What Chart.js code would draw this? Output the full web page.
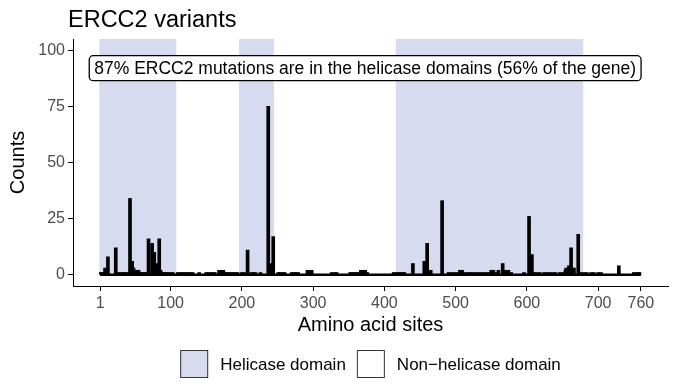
<!DOCTYPE html>
<html>
<head>
<meta charset="utf-8">
<script src="https://cdn.jsdelivr.net/npm/chart.js@4.4.1/dist/chart.umd.min.js"></script>
<style>
    html, body { margin: 0; padding: 0; background: #ffffff; }
    #wrap { width: 680px; height: 389px; }
</style>
</head>
<body>
<div id="wrap"><canvas id="ercc2-chart"></canvas></div>
<script>
// ERCC2 variant counts per amino acid site

// Helicase domain ranges (amino acid sites)
const helicaseDomains = [[0, 108], [196, 245], [416, 679]];

// Sites with taller bars and their counts
const peakSites  = [8, 12, 23, 43, 46, 48, 69, 74, 77, 80, 84, 208, 237, 240, 244, 440, 456, 460, 481, 566, 603, 607, 655, 659, 662, 666, 672, 729];
const peakCounts = [3, 8, 12, 34, 6, 3, 16, 14, 10, 5, 16, 11, 75, 5, 17, 5, 6, 14, 33, 5, 26, 9, 3, 4, 12, 3, 18, 4];

// Sites with a count of 2
const twoCountSites = [52, 55, 86, 168, 171, 174, 292, 295, 298, 367, 370, 373, 465, 506, 509, 550, 553, 560, 570, 574, 654];

// Sites with a count of 1
const oneCountSites = [2, 4, 6, 27, 30, 33, 36, 39, 50, 57, 60, 63, 66, 88, 91, 94, 97, 100, 103,
    110, 113, 116, 119, 122, 125, 128, 131, 140, 150, 153, 156, 159, 162, 176, 179, 182, 185, 188, 191, 194,
    200, 203, 213, 216, 219, 226, 251, 254, 257, 260, 270, 273, 276, 279, 326, 330, 333,
    352, 355, 358, 361, 364, 376, 413, 416, 419, 422, 425, 428, 490, 494, 498, 503, 513,
    517, 520, 523, 526, 530, 534, 538, 542, 546, 556, 578, 596, 610, 614, 618, 624, 628, 632, 636, 640, 646, 650,
    676, 680, 684, 690, 694, 700, 704, 750, 753, 756, 758];

// Gene span and axis ticks
const geneSpan = [1, 760];
const xTicks = [1, 100, 200, 300, 400, 500, 600, 700, 760];
const yTicks = [0, 25, 50, 75, 100];

const annotationText = '87% ERCC2 mutations are in the helicase domains (56% of the gene)';
const annotationPos = { x: 373, y: 92 };

const legendLabels = ['Helicase domain', 'Non\u2212helicase domain'];
const helicaseColor = '#d7dbef';
const legendFills = [helicaseColor, '#ffffff'];

// Build bar points from the lists above
const barPoints = []
    .concat(oneCountSites.map(s => ({ x: s, y: 1 })))
    .concat(twoCountSites.map(s => ({ x: s, y: 2 })))
    .concat(peakSites.map((s, i) => ({ x: s, y: peakCounts[i] })));

const FONT = '"Liberation Sans", Arial, sans-serif';

// Shaded helicase domains behind the bars
const domainShading = {
    id: 'domainShading',
    beforeDatasetsDraw(chart) {
        const { ctx, chartArea, scales } = chart;
        const y0 = scales.y.getPixelForValue(0);
        ctx.save();
        ctx.fillStyle = helicaseColor;
        helicaseDomains.forEach(([a, b]) => {
            const x1 = scales.x.getPixelForValue(a);
            const x2 = scales.x.getPixelForValue(b);
            ctx.fillRect(x1, chartArea.top, x2 - x1, y0 - chartArea.top);
        });
        ctx.restore();
    }
};

// Boxed label in the plot
const labelBox = {
    id: 'labelBox',
    afterDatasetsDraw(chart) {
        const { ctx, scales } = chart;
        const cx = scales.x.getPixelForValue(annotationPos.x);
        const cy = scales.y.getPixelForValue(annotationPos.y);
        ctx.save();
        ctx.font = '17.5px ' + FONT;
        const w = ctx.measureText(annotationText).width + 10;
        const h = 25;
        ctx.beginPath();
        ctx.roundRect(cx - w / 2, cy - h / 2, w, h, 4);
        ctx.fillStyle = '#ffffff';
        ctx.fill();
        ctx.lineWidth = 1.3;
        ctx.strokeStyle = '#000000';
        ctx.stroke();
        ctx.fillStyle = '#000000';
        ctx.textAlign = 'center';
        ctx.textBaseline = 'middle';
        ctx.fillText(annotationText, cx, cy + 1);
        ctx.restore();
    }
};

// Title and legend, placed like the ggplot original
const titleAndLegend = {
    id: 'titleAndLegend',
    afterDraw(chart) {
        const { ctx, chartArea } = chart;
        ctx.save();
        ctx.font = '23.5px ' + FONT;
        ctx.fillStyle = '#000000';
        ctx.textAlign = 'left';
        ctx.textBaseline = 'alphabetic';
        ctx.fillText('ERCC2 variants', 68, 27);

        // legend centred under the plot panel
        const box = 28, gapText = 12, gapItem = 11;
        ctx.font = '17px ' + FONT;
        const widths = legendLabels.map(t => ctx.measureText(t).width);
        let total = 0;
        widths.forEach((w, i) => { total += box + gapText + w + (i ? gapItem : 0); });
        let x = (chartArea.left + chartArea.right) / 2 - total / 2;
        const cy = 364;
        ctx.textBaseline = 'middle';
        legendLabels.forEach((t, i) => {
            ctx.fillStyle = legendFills[i];
            ctx.fillRect(x, cy - box / 2, box, box);
            ctx.strokeStyle = '#333333';
            ctx.lineWidth = 1;
            ctx.strokeRect(x + 0.5, cy - box / 2 + 0.5, box - 1, box - 1);
            ctx.fillStyle = '#000000';
            ctx.fillText(t, x + box + gapText, cy + 1);
            x += box + gapText + widths[i] + gapItem;
        });
        ctx.restore();
    }
};

Chart.defaults.font.family = "'Liberation Sans', Arial, sans-serif";
Chart.defaults.animation = false;

new Chart(document.getElementById('ercc2-chart'), {
    type: 'bar',
    data: {
        datasets: [{
            type: 'line',
            label: 'baseline',
            data: geneSpan.map(s => ({ x: s, y: 0 })),
            borderColor: '#000000',
            borderWidth: 2.5,
            pointRadius: 0,
            order: 1
        }, {
            type: 'bar',
            label: 'Counts',
            data: barPoints,
            backgroundColor: '#000000',
            borderWidth: 0,
            barThickness: 3,
            order: 0
        }]
    },
    options: {
        responsive: true,
        maintainAspectRatio: false,
        layout: {
            padding: { top: 39, right: 12, left: 0, bottom: 48 }
        },
        plugins: {
            legend: { display: false },
            tooltip: { enabled: false }
        },
        scales: {
            x: {
                type: 'linear',
                min: -37,
                max: 798,
                offset: false,
                afterBuildTicks: s => { s.ticks = xTicks.map(v => ({ value: v })); },
                afterFit: s => { s.height = 55; },
                grid: { offset: false, drawOnChartArea: false, drawTicks: true, tickLength: 5, color: '#000000' },
                border: { display: true, color: '#000000', width: 1 },
                ticks: {
                    color: '#4d4d4d',
                    font: { size: 16 },
                    padding: 3,
                    maxRotation: 0,
                    autoSkip: false,
                    callback: v => v
                },
                title: {
                    display: true,
                    text: 'Amino acid sites',
                    color: '#000000',
                    font: { size: 20 },
                    padding: { top: 0, bottom: 4 }
                }
            },
            y: {
                min: -5,
                max: 105,
                afterBuildTicks: s => { s.ticks = yTicks.map(v => ({ value: v })); },
                afterFit: s => { s.width = 73; },
                grid: { drawOnChartArea: false, drawTicks: true, tickLength: 5, color: '#000000' },
                border: { display: true, color: '#000000', width: 1 },
                ticks: {
                    color: '#4d4d4d',
                    font: { size: 16 },
                    padding: 3
                },
                title: {
                    display: true,
                    text: 'Counts',
                    color: '#000000',
                    font: { size: 20 },
                    padding: { top: 6, bottom: 0 }
                }
            }
        }
    },
    plugins: [domainShading, labelBox, titleAndLegend]
});
</script>
</body>
</html>
